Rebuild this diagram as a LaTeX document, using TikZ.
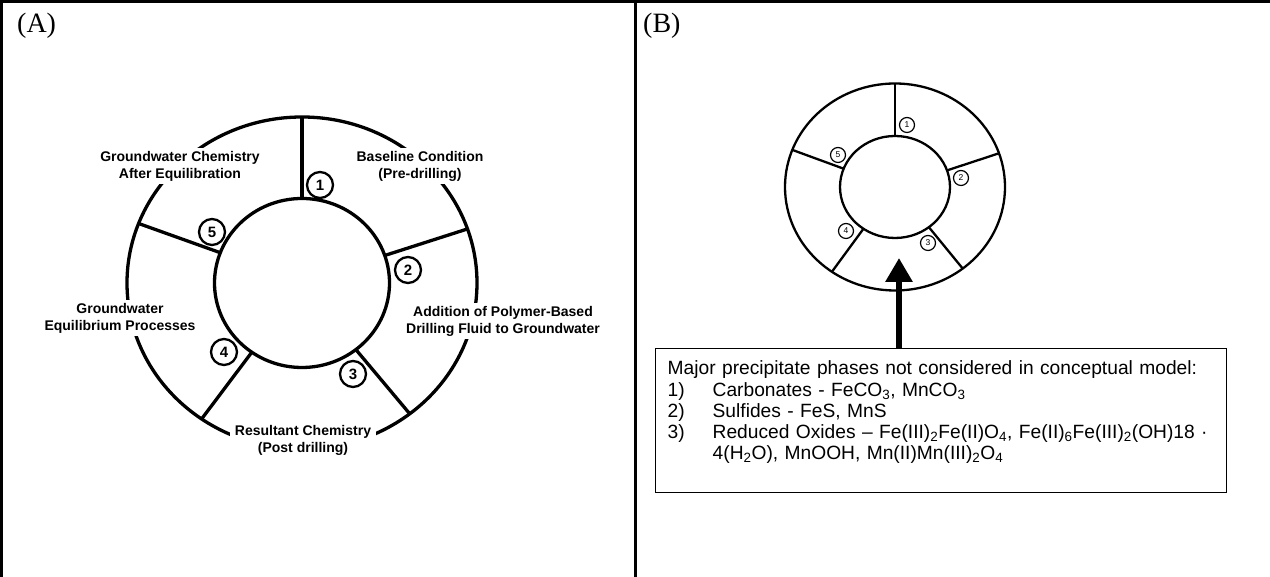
\documentclass[tikz,border=0pt]{standalone}
\usepackage{fontspec}
\setmainfont{Liberation Sans}
\newfontfamily\panelfont{Liberation Serif}
\usetikzlibrary{arrows.meta}

\tikzset{
  stagelbl/.style={fill=white, inner xsep=5pt, inner ysep=3pt, align=center,
    font=\bfseries\fontsize{14}{17}\selectfont},
  numa/.style={circle, draw, line width=2.3pt, minimum size=26pt, inner sep=0pt,
    font=\bfseries\fontsize{15}{15}\selectfont},
  numb/.style={circle, draw, line width=1.2pt, minimum size=15pt, inner sep=0pt,
    font=\fontsize{8.5}{8.5}\selectfont},
  panellbl/.style={anchor=base west, inner sep=0pt, font=\panelfont\fontsize{28}{28}\selectfont},
  notebox/.style={draw, line width=1.4pt, anchor=north west, text width=547pt,
    inner xsep=12pt, inner ysep=12pt, text depth=106pt, align=left,
    font=\fontsize{19.2}{21}\selectfont},
}

\begin{document}
\begin{tikzpicture}[x=1pt,y=1pt]
\useasboundingbox (0,0) rectangle (1270,577);

% frame
\draw[line width=3pt] (0,575) -- (1270,575);
\draw[line width=3pt] (1.5,577) -- (1.5,0);
\draw[line width=3pt] (635,577) -- (635,0);

% panel titles
\node[panellbl] (ta) at (17,544) {(A)};
\node[panellbl] (tb) at (643,544) {(B)};

% (A) ring with five stages
\coordinate (ca) at (302,294);
\begin{scope}[line width=3.3pt]
  \draw (ca) ellipse [x radius=87.5pt, y radius=84.5pt];
  \draw (ca) ellipse [x radius=175pt, y radius=166pt];
  \foreach \ang in {90,19,-52,-125,159}
    \draw[shift={(ca)}] (\ang:87.5pt and 84.5pt) -- (\ang:175pt and 166pt);
\end{scope}

% labels cut the outer ring
\node[stagelbl] (lblone) at (420,411) {Baseline Condition\\(Pre-drilling)};
\node[stagelbl] (lbltwo) at (503,256) {Addition of Polymer-Based\\Drilling Fluid to Groundwater};
\node[stagelbl] (lblthree) at (303,137) {Resultant Chemistry\\(Post drilling)};
\node[stagelbl] (lblfour) at (120,259) {Groundwater\\Equilibrium Processes};
\node[stagelbl] (lblfive) at (180,411) {Groundwater Chemistry\\After Equilibration};

\node[numa] (na1) at (320,392) {1};
\node[numa] (na2) at (408,307) {2};
\node[numa] (na3) at (353,203) {3};
\node[numa] (na4) at (224,225) {4};
\node[numa] (na5) at (212,345) {5};

% (B) small ring
\coordinate (cb) at (895,390);
\begin{scope}[line width=2.3pt]
  \draw (cb) ellipse [x radius=55pt, y radius=51pt];
  \draw (cb) ellipse [x radius=110pt, y radius=103.5pt];
  \foreach \ang in {90,19,-52,-125,159}
    \draw[shift={(cb)}] (\ang:55pt and 51pt) -- (\ang:110pt and 103.5pt);
\end{scope}

\node[numb] (nb1) at (907,452) {1};
\node[numb] (nb2) at (961,399) {2};
\node[numb] (nb3) at (928,334) {3};
\node[numb] (nb4) at (846,346) {4};
\node[numb] (nb5) at (838,422) {5};

% note box and arrow
\node[notebox] (notes) at (655,229) {%
  \mbox{Major precipitate phases not considered in conceptual model:}\\[1pt]
  \mbox{\makebox[45pt][l]{1)}Carbonates - FeCO\textsubscript{3}, MnCO\textsubscript{3}}\\
  \mbox{\makebox[45pt][l]{2)}Sulfides - FeS, MnS}\\
  \mbox{\makebox[45pt][l]{3)}Reduced Oxides -- Fe(III)\textsubscript{2}Fe(II)O\textsubscript{4}, Fe(II)\textsubscript{6}Fe(III)\textsubscript{2}(OH)18 ·}\\
  \mbox{\hspace*{45pt}4(H\textsubscript{2}O), MnOOH, Mn(II)Mn(III)\textsubscript{2}O\textsubscript{4}}};

\coordinate (tipb) at (899,319);
\draw[line width=6.5pt, -{Triangle[width=26pt,length=24pt]}] (notes.north -| tipb) -- (tipb);

\end{tikzpicture}
\end{document}
